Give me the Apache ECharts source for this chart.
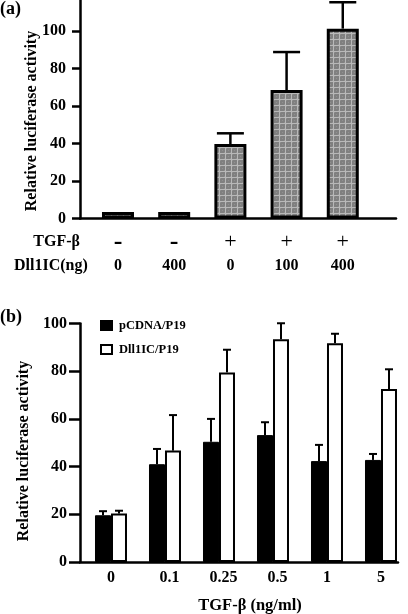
<!DOCTYPE html>
<html>
<head>
<meta charset="utf-8">
<script src="https://cdn.jsdelivr.net/npm/echarts@6/dist/echarts.min.js"></script>
<style>
html,body{margin:0;padding:0;background:#fff;}
#main{width:408px;height:614px;}
</style>
</head>
<body>
<div id="main"></div>
<script>
// ---------- Panel (a) data ----------
const tgfRowA = ['-', '-', '+', '+', '+'];
const dllRowA = ['0', '400', '0', '100', '400'];
const valuesA = [3.5, 3.5, 39.8, 68.6, 101.4];
const errorsA = [0, 0, 5.7, 20.3, 14.1];
const yTicksA = [0, 20, 40, 60, 80, 100];

// ---------- Panel (b) data ----------
const categoriesB = ['0', '0.1', '0.25', '0.5', '1', '5'];
const pcdnaValues = [19.6, 41.0, 50.4, 53.2, 42.3, 42.8];
const pcdnaErrors = [1.7, 6.4, 9.6, 5.4, 6.8, 2.5];
const dllValues = [20.3, 46.7, 79.5, 93.4, 91.7, 72.5];
const dllErrors = [1.2, 14.9, 9.5, 6.7, 4.0, 8.3];
const yTicksB = [0, 20, 40, 60, 80, 100];

const FONT = 'Liberation Serif';

// hatched pattern for panel (a) bars
const pat = document.createElement('canvas');
pat.width = 6; pat.height = 6;
(function(){
  const c = pat.getContext('2d');
  c.fillStyle = '#808080'; c.fillRect(0,0,6,6);
  c.fillStyle = '#909090';
  c.fillRect(0,0,1,1); c.fillRect(2,2,1,1); c.fillRect(4,4,1,1);
  c.fillStyle = '#b8b8b8';
  c.fillRect(0,3,6,1); c.fillRect(3,0,1,6);
})();

function errRender(offset, cap, lw) {
  return function(params, api) {
    const x = api.value(0), v = api.value(1), e = api.value(2);
    if (!e) return null;
    const p0 = api.coord([x, v]);
    const p1 = api.coord([x, v + e]);
    const cx = p0[0] + offset;
    return {
      type: 'group',
      children: [
        {type: 'line', shape: {x1: cx, y1: p0[1], x2: cx, y2: p1[1]}, style: {stroke: '#000', lineWidth: lw}},
        {type: 'line', shape: {x1: cx - cap / 2, y1: p1[1], x2: cx + cap / 2, y2: p1[1]}, style: {stroke: '#000', lineWidth: lw}}
      ]
    };
  };
}

const chart = echarts.init(document.getElementById('main'), null, {renderer: 'canvas'});
const boldText = {fontFamily: FONT, fontWeight: 'bold', color: '#000'};
const labelShiftB = [0, 9, 9, 9, 0, 0];

const option = {
  backgroundColor: '#fff',
  animation: false,
  textStyle: {fontFamily: FONT},
  grid: [
    {left: 80, top: 0, width: 316, height: 218.5, containLabel: false},
    {left: 80, top: 323.5, width: 318, height: 238.5, containLabel: false}
  ],
  xAxis: [
    {
      gridIndex: 0, type: 'value', min: -0.676, max: 4.947,
      splitLine: {show: false},
      axisLine: {show: true, onZero: false, lineStyle: {color: '#000', width: 2.5}},
      axisTick: {show: false},
      axisLabel: {
        customValues: [0, 1, 2, 3, 4],
        margin: 11.5,
        formatter: function(v) {
          const i = Math.round(v);
          const s = tgfRowA[i];
          return (s === '-' ? '{m|' + s + '}' : '{p|' + s + '}') + '\n{v|' + dllRowA[i] + '}';
        },
        rich: {
          m: {fontFamily: FONT, fontWeight: 'bold', fontSize: 26, lineHeight: 24, color: '#000'},
          p: {fontFamily: FONT, fontWeight: 'normal', fontSize: 22, lineHeight: 24, color: '#000'},
          v: {fontFamily: FONT, fontWeight: 'bold', fontSize: 16, lineHeight: 24, color: '#000'}
        }
      }
    },
    {
      gridIndex: 1, type: 'value', min: -0.574, max: 5.315,
      splitLine: {show: false},
      axisLine: {show: true, onZero: false, lineStyle: {color: '#000', width: 2.5}},
      axisTick: {show: false},
      axisLabel: {
        customValues: [0, 1, 2, 3, 4, 5],
        margin: 8,
        formatter: function(v) {
          const i = Math.round(v);
          return labelShiftB[i] ? '{s|' + categoriesB[i] + '}' : '{n|' + categoriesB[i] + '}';
        },
        rich: {
          n: {fontFamily: FONT, fontWeight: 'bold', fontSize: 16, color: '#000'},
          s: {fontFamily: FONT, fontWeight: 'bold', fontSize: 16, color: '#000', padding: [0, 0, 0, 9]}
        }
      }
    }
  ],
  yAxis: [
    {
      gridIndex: 0, type: 'value', min: 0, max: 116.7,
      splitLine: {show: false},
      axisLine: {show: true, onZero: false, lineStyle: {color: '#000', width: 2.5}},
      axisTick: {show: true, customValues: yTicksA, length: 8, lineStyle: {color: '#000', width: 2.5}},
      axisLabel: Object.assign({customValues: yTicksA, fontSize: 16, margin: 14}, boldText)
    },
    {
      gridIndex: 1, type: 'value', min: 0, max: 100,
      splitLine: {show: false},
      axisLine: {show: true, onZero: false, lineStyle: {color: '#000', width: 2.5}},
      axisTick: {show: true, customValues: yTicksB, length: 11, lineStyle: {color: '#000', width: 2.5}},
      axisLabel: Object.assign({customValues: yTicksB, fontSize: 16, margin: 13}, boldText)
    }
  ],
  legend: {
    orient: 'vertical', left: 100, top: 319, padding: 0,
    itemWidth: 11, itemHeight: 9, itemGap: 11,
    icon: 'rect',
    data: ['pCDNA/P19', 'Dll1IC/P19'],
    textStyle: {fontFamily: FONT, fontWeight: 'bold', fontSize: 12.5, color: '#000', padding: [0, 0, 0, 2]}
  },
  series: [
    {
      type: 'bar', xAxisIndex: 0, yAxisIndex: 0, name: 'A',
      barWidth: 32,
      data: valuesA.map((v, i) => [i, v]),
      itemStyle: {color: {image: pat, repeat: 'repeat'}, borderColor: '#000', borderWidth: 3}
    },
    {
      type: 'custom', xAxisIndex: 0, yAxisIndex: 0, name: 'errA',
      renderItem: errRender(0, 27, 2.5),
      encode: {x: 0, y: 1},
      data: valuesA.map((v, i) => [i, v, errorsA[i]]),
      z: 5
    },
    {
      type: 'bar', xAxisIndex: 1, yAxisIndex: 1, name: 'pCDNA/P19',
      barWidth: 16, barGap: '0%',
      data: pcdnaValues.map((v, i) => [i, v]),
      itemStyle: {color: '#000', borderColor: '#000', borderWidth: 1}
    },
    {
      type: 'bar', xAxisIndex: 1, yAxisIndex: 1, name: 'Dll1IC/P19',
      barWidth: 16, barGap: '0%',
      data: dllValues.map((v, i) => [i, v]),
      itemStyle: {color: '#fff', borderColor: '#000', borderWidth: 2}
    },
    {
      type: 'custom', xAxisIndex: 1, yAxisIndex: 1, name: 'errP',
      renderItem: errRender(-8, 8, 2),
      encode: {x: 0, y: 1},
      data: pcdnaValues.map((v, i) => [i, v, pcdnaErrors[i]]),
      z: 5
    },
    {
      type: 'custom', xAxisIndex: 1, yAxisIndex: 1, name: 'errD',
      renderItem: errRender(8, 8, 2),
      encode: {x: 0, y: 1},
      data: dllValues.map((v, i) => [i, v, dllErrors[i]]),
      z: 5
    }
  ],
  graphic: [
    {type: 'text', left: 0, top: 0, style: {text: '(a)', fontSize: 18, fill: '#000', fontFamily: FONT, fontWeight: 'bold'}},
    {type: 'text', left: 0, top: 308, style: {text: '(b)', fontSize: 18, fill: '#000', fontFamily: FONT, fontWeight: 'bold'}},
    {type: 'text', x: 32, y: 121, rotation: Math.PI / 2,
      style: {text: 'Relative luciferase activity', fontSize: 16, fill: '#000', fontFamily: FONT, fontWeight: 'bold', align: 'center', verticalAlign: 'middle'}},
    {type: 'text', x: 24, y: 451, rotation: Math.PI / 2,
      style: {text: 'Relative luciferase activity', fontSize: 16, fill: '#000', fontFamily: FONT, fontWeight: 'bold', align: 'center', verticalAlign: 'middle'}},
    {type: 'text', x: 80, y: 242,
      style: {text: 'TGF-β', fontSize: 16, fill: '#000', fontFamily: FONT, fontWeight: 'bold', align: 'right', verticalAlign: 'middle'}},
    {type: 'text', x: 14, y: 266,
      style: {text: 'Dll1IC(ng)', fontSize: 16, fill: '#000', fontFamily: FONT, fontWeight: 'bold', align: 'left', verticalAlign: 'middle'}},
    {type: 'text', x: 250, y: 606,
      style: {text: 'TGF-β (ng/ml)', fontSize: 16.5, fill: '#000', fontFamily: FONT, fontWeight: 'bold', align: 'center', verticalAlign: 'middle'}}
  ]
};
chart.setOption(option);
</script>
</body>
</html>
